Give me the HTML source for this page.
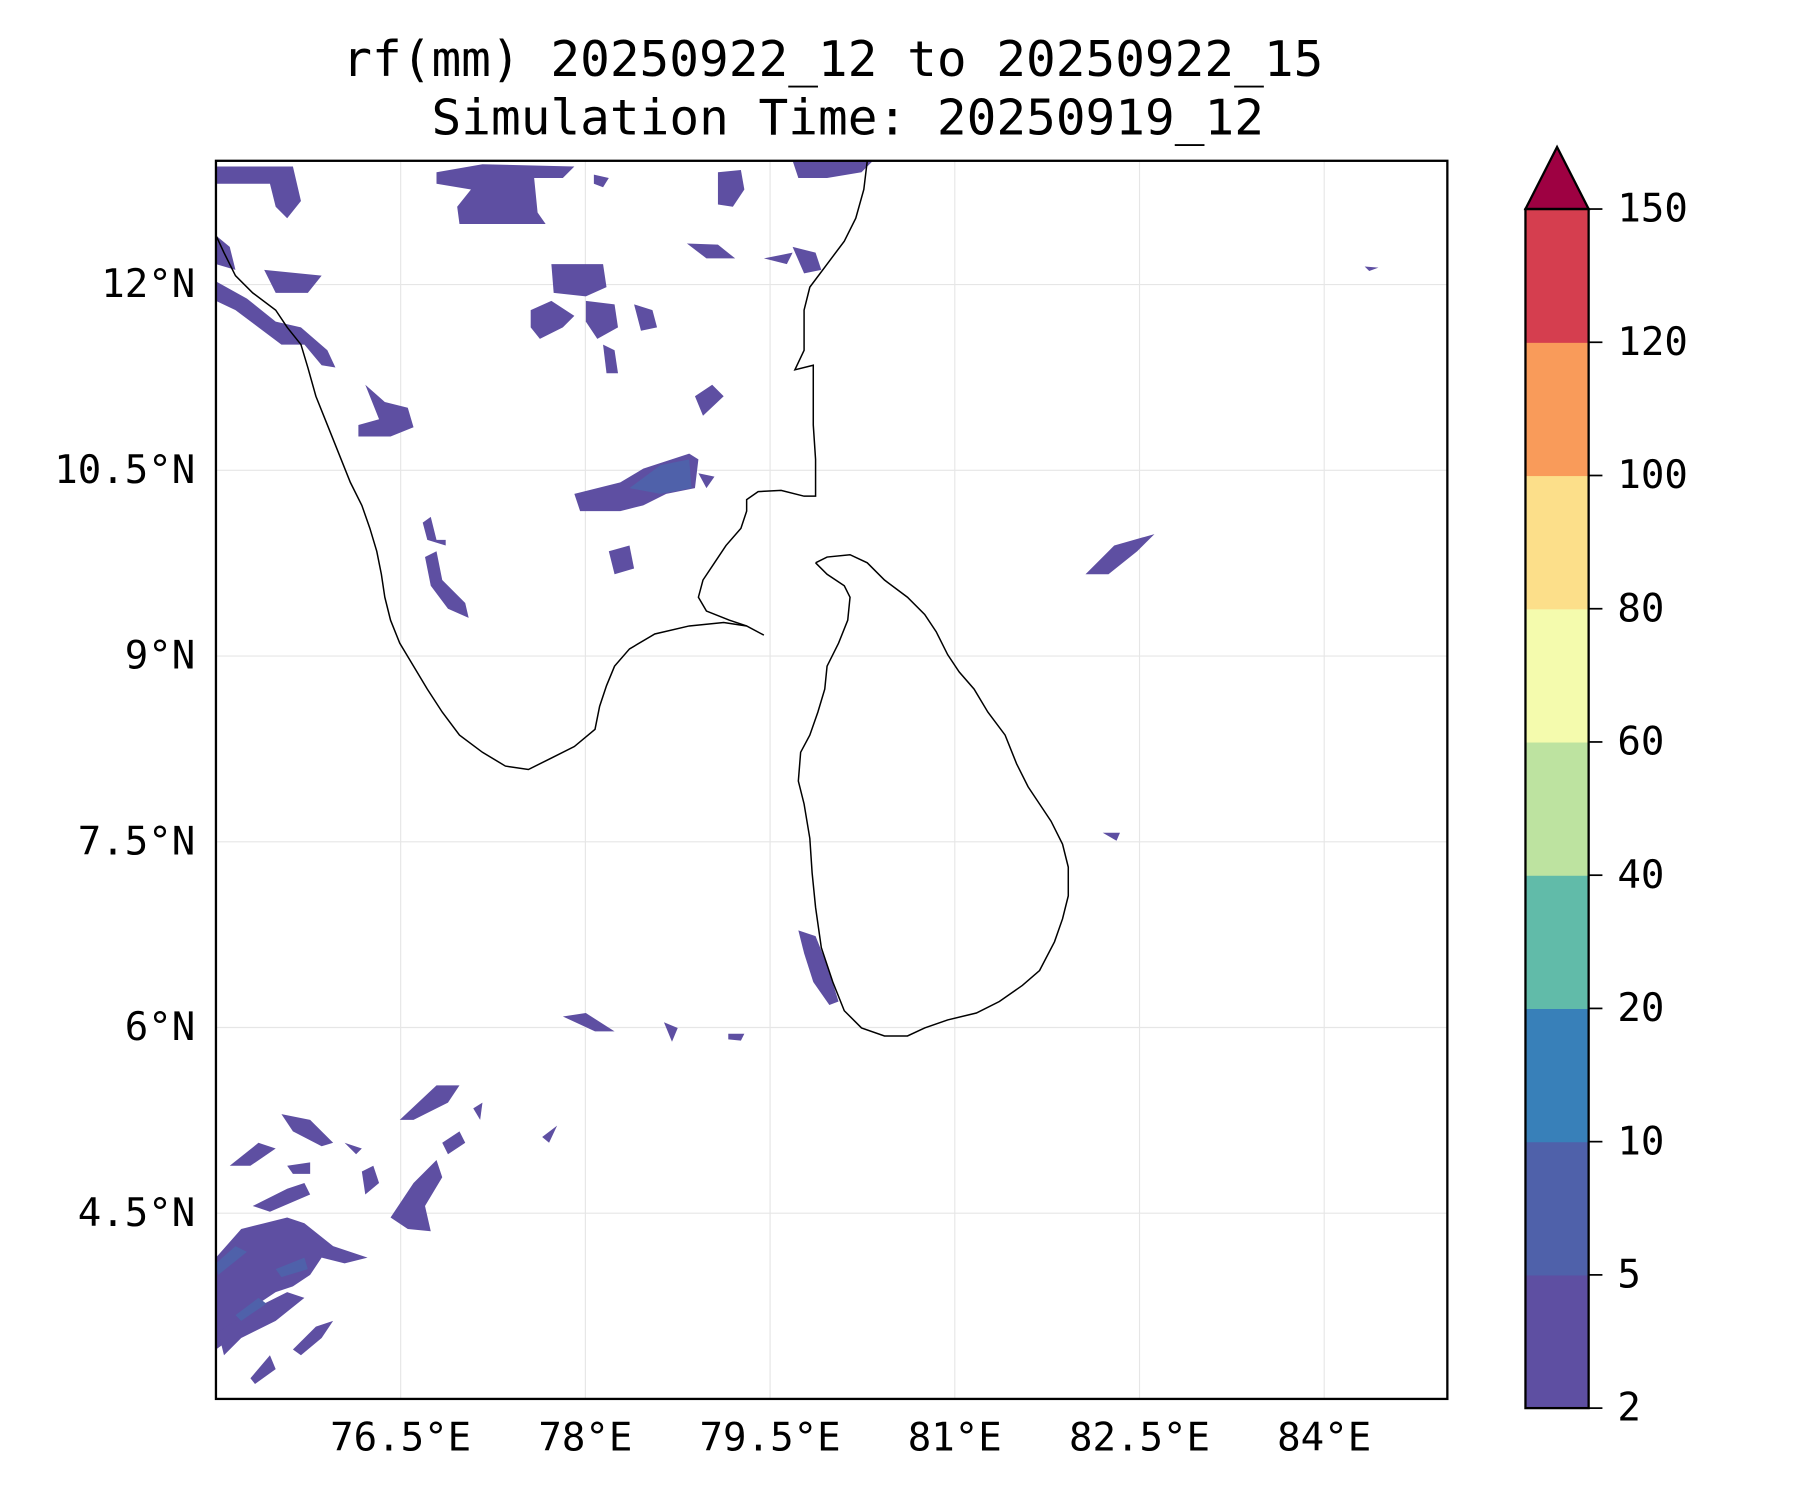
<!DOCTYPE html>
<html><head><meta charset="utf-8"><style>
html,body{margin:0;padding:0;background:#fff;width:1800px;height:1500px;overflow:hidden}
svg{display:block}
text{font-family:"DejaVu Sans Mono","Liberation Mono",monospace;fill:#000}
</style></head><body>
<svg id="chart" width="1800" height="1500" viewBox="0 0 1567 1306" preserveAspectRatio="none" xmlns="http://www.w3.org/2000/svg">
<text x="725" y="66" font-size="43" text-anchor="middle">rf(mm) 20250922_12 to 20250922_15</text>
<text x="738" y="117" font-size="43" text-anchor="middle">Simulation Time: 20250919_12</text>
<g id="grid"></g>
<g id="rain"></g>
<g id="coast" fill="none" stroke="#000" stroke-width="1.3"></g>
<rect x="188" y="140" width="1072" height="1078" fill="none" stroke="#000" stroke-width="2"/>
<g id="xlabels"></g>
<g id="ylabels"></g>
<g id="cbar"></g>
</svg>
<script>
const lonTicks=[76.5,78,79.5,81,82.5,84];
const latTicks=[12,10.5,9,7.5,6,4.5];
const lonLabels=["76.5°E","78°E","79.5°E","81°E","82.5°E","84°E"];
const latLabels=["12°N","10.5°N","9°N","7.5°N","6°N","4.5°N"];
const levels=[2,5,10,20,40,60,80,100,120,150];
const levelColors=["#5e4fa2","#4f61aa","#3880b9","#61bba9","#bde3a0","#f4fbad","#fcdf8a","#f99b5a","#d53e4f"];
const extendColor="#9e0142";
const NS="http://www.w3.org/2000/svg";
const L=188,R=1260,T=140,B=1218,lon0=75,lon1=85,lat0=3,lat1=13;
function xs(lon){return L+(lon-lon0)/(lon1-lon0)*(R-L);}
function ys(lat){return B-(lat-lat0)/(lat1-lat0)*(B-T);}
function el(tag,attrs,parent){const e=document.createElementNS(NS,tag);for(const k in attrs)e.setAttribute(k,attrs[k]);parent.appendChild(e);return e;}
const grid=document.getElementById('grid'),xl=document.getElementById('xlabels'),yl=document.getElementById('ylabels');
lonTicks.forEach((v,i)=>{
 const g=el('line',{x1:xs(v),x2:xs(v),y1:T,y2:B,stroke:'#e6e6e6','stroke-width':1},grid);
 
 
 const t=el('text',{x:xs(v),y:1263,'font-size':34,'text-anchor':'middle'},xl);
 t.textContent=lonLabels[i];
 
 
});
latTicks.forEach((v,i)=>{
 const g=el('line',{x1:L,x2:R,y1:ys(v),y2:ys(v),stroke:'#e6e6e6','stroke-width':1},grid);
 
 
 const t=el('text',{x:170,y:ys(v)+11,'font-size':34,'text-anchor':'end'},yl);
 t.textContent=latLabels[i];
 
 
});
const coasts=[
"188,205 195,220 205,240 220,255 240,270 250,285 262,300 268,320 275,345 285,370 295,395 305,420 315,440 322,460 328,480 332,500 335,520 340,540 348,560 360,580 372,600 385,620 400,640 420,655 440,667 460,670 480,660 500,650 518,635 522,615 528,597 535,580 548,565 570,552 600,545 630,542 650,545 665,553",
"650,545 635,540 615,532 608,520 612,505 622,490 632,475 645,460 650,445 650,435 660,428 680,427 700,432 710,432 710,400 708,370 708,340 708,318 692,322 700,305 700,290 700,270 705,250 720,230 735,210 745,190 752,165 755,140",
"710,490 720,485 740,483 755,490 770,505 790,520 805,535 815,550 825,570 835,585 848,600 860,620 875,640 885,665 895,685 905,700 915,715 925,735 930,755 930,780 925,800 918,820 905,845 890,858 870,872 850,882 825,888 805,895 790,902 770,902 750,895 735,880 725,855 715,825 710,790 707,760 705,730 700,700 695,680 697,655 705,640 712,620 718,600 720,580 730,560 738,540 740,520 735,510 720,500 710,490"
];
const coast=document.getElementById('coast');
coasts.forEach(p=>{const e=el('polyline',{points:p},coast);
 
 });
const blobs=[
[0,"188,145 255,145 262,175 250,190 240,180 235,160 188,160"],
[0,"380,150 420,143 500,145 490,155 465,155 468,185 475,195 440,195 400,195 398,180 410,165 380,160"],
[0,"188,205 200,215 205,235 188,230"],
[0,"188,245 215,260 240,280 262,285 285,305 292,320 280,318 265,300 245,300 225,285 205,270 188,262"],
[0,"230,235 280,240 268,255 240,255"],
[0,"480,230 525,230 528,250 510,258 482,255"],
[0,"462,270 480,262 500,275 490,285 470,295 462,285"],
[0,"510,262 535,265 538,285 520,295 510,280"],
[0,"552,265 568,270 572,285 558,288"],
[0,"525,300 535,305 538,325 528,325"],
[0,"605,345 620,335 630,345 612,362"],
[0,"318,335 335,350 355,355 360,372 340,380 312,380 312,370 330,365"],
[0,"500,430 540,420 560,408 600,395 608,400 605,425 580,430 560,440 540,445 505,445"],
[1,"548,425 575,405 600,400 602,425 575,430"],
[0,"608,412 622,415 615,425"],
[0,"530,480 548,475 552,495 535,500"],
[0,"370,485 380,480 385,505 405,525 408,538 390,530 375,510"],
[0,"368,455 375,450 380,470 388,470 388,475 372,470"],
[0,"945,500 970,475 1005,465 990,480 965,500"],
[0,"598,212 625,213 640,225 615,225"],
[0,"665,225 690,220 685,230"],
[0,"690,215 710,220 715,235 700,238"],
[0,"625,150 645,148 648,165 638,180 625,178"],
[0,"690,140 760,140 750,150 720,155 695,155"],
[0,"517,152 530,155 525,163 517,160"],
[0,"695,810 710,815 720,840 730,872 722,875 708,855 700,830"],
[0,"490,885 510,882 535,898 518,898"],
[0,"960,725 975,725 972,732"],
[0,"578,890 590,895 585,907"],
[0,"634,900 648,900 645,906 634,905"],
[0,"1188,232 1200,233 1192,236"],
[0,"348,975 380,945 400,945 390,960 360,975"],
[0,"188,1095 210,1070 230,1065 250,1060 265,1065 290,1085 320,1095 300,1100 280,1095 270,1110 255,1120 240,1125 225,1135 210,1150 195,1170 188,1175"],
[0,"190,1160 220,1140 250,1125 265,1130 240,1150 210,1165 195,1180"],
[0,"340,1060 360,1030 380,1010 385,1025 370,1050 375,1072 355,1070"],
[0,"245,970 270,975 290,995 280,998 255,985"],
[0,"220,1050 250,1035 265,1030 270,1040 235,1055"],
[0,"255,1175 275,1155 290,1150 280,1165 262,1180"],
[0,"218,1200 235,1180 240,1192 222,1205"],
[0,"200,1015 225,995 240,1000 218,1015"],
[0,"250,1015 270,1012 270,1022 255,1022"],
[0,"315,1020 325,1015 330,1030 318,1040"],
[0,"300,995 315,1000 310,1005"],
[0,"385,995 400,985 405,995 390,1005"],
[0,"412,965 420,960 418,975"],
[0,"472,990 485,980 478,995"],
[1,"188,1100 205,1085 215,1090 190,1110"],
[1,"240,1105 265,1095 268,1105 245,1112"],
[1,"205,1145 225,1130 232,1135 210,1150"]
];
const rain=document.getElementById('rain');
blobs.forEach(b=>{const e=el('polygon',{points:b[1],fill:levelColors[b[0]]},rain);
 
 });
const cb=document.getElementById('cbar');
const cx0=1328,cx1=1383,cTop=182,cBot=1226,n=levels.length-1,seg=(cBot-cTop)/n;
function cy(i){return cBot-i*seg;}
for(let i=0;i<n;i++){
 const r=el('rect',{x:cx0,y:cy(i+1),width:cx1-cx0,height:seg+0.5,fill:levelColors[i]},cb);
 
 
}
const tri=el('polygon',{points:`${cx0},${cTop} ${(cx0+cx1)/2},128 ${cx1},${cTop}`,fill:extendColor,stroke:'#000','stroke-width':2},cb);


const fr=el('rect',{x:cx0,y:cTop,width:cx1-cx0,height:cBot-cTop,fill:'none',stroke:'#000','stroke-width':2},cb);


levels.forEach((v,i)=>{
 const tk=el('line',{x1:cx1,x2:cx1+12,y1:cy(i),y2:cy(i),stroke:'#000','stroke-width':1.5},cb);
 
 
 const t=el('text',{x:1408,y:cy(i)+11,'font-size':34},cb);
 t.textContent=String(v);
 
 
});
</script>
</body></html>
